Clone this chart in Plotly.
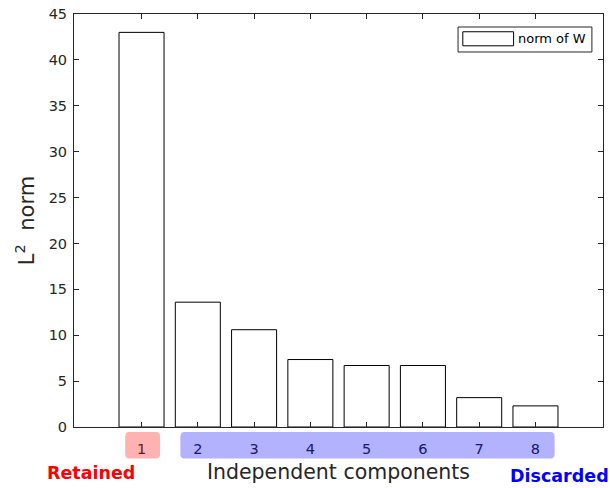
import plotly.graph_objects as go

# Independent component indices and the L2 norm of each column of W
components = [1, 2, 3, 4, 5, 6, 7, 8]
norm_w = [43.0, 13.6, 10.6, 7.35, 6.7, 6.7, 3.2, 2.3]
retained = [1]
discarded = [2, 3, 4, 5, 6, 7, 8]
y_ticks = [0, 5, 10, 15, 20, 25, 30, 35, 40, 45]
series_name = "norm of W"

AX = "#262626"
FONT = "DejaVu Sans, Arial, sans-serif"

fig = go.Figure()
fig.add_trace(go.Bar(
    x=components, y=norm_w, name=series_name, width=0.8,
    marker=dict(color="white", line=dict(color="black", width=1)),
    showlegend=False,
))


def rounded_box(x0, x1, y0, y1, rx=0.07, ry=0.012):
    return (f"M {x0+rx},{y0} L {x1-rx},{y0} Q {x1},{y0} {x1},{y0+ry} "
            f"L {x1},{y1-ry} Q {x1},{y1} {x1-rx},{y1} L {x0+rx},{y1} "
            f"Q {x0},{y1} {x0},{y1-ry} L {x0},{y0+ry} Q {x0},{y0} {x0+rx},{y0} Z")


# translucent highlight bands laid over the category labels
fig.add_shape(type="path", xref="x", yref="paper", layer="above",
              path=rounded_box(min(retained) - 0.29, max(retained) + 0.33, -0.076, -0.012),
              fillcolor="rgba(255,0,0,0.3)", line=dict(width=0))
fig.add_shape(type="path", xref="x", yref="paper", layer="above",
              path=rounded_box(min(discarded) - 0.31, max(discarded) + 0.34, -0.076, -0.012),
              fillcolor="rgba(0,0,255,0.3)", line=dict(width=0))

# legend box drawn by hand (wide swatch)
fig.add_shape(type="rect", xref="paper", yref="paper", x0=0.726, x1=0.979, y0=0.908, y1=0.9685,
              fillcolor="white", line=dict(color=AX, width=1))
fig.add_shape(type="rect", xref="paper", yref="paper", x0=0.735, x1=0.831, y0=0.923, y1=0.957,
              fillcolor="white", line=dict(color="black", width=1))
fig.add_annotation(xref="paper", yref="paper", x=0.835, y=0.940, xanchor="left", yanchor="middle",
                   text=series_name, showarrow=False, font=dict(family=FONT, size=13, color="black"))

fig.add_annotation(xref="paper", yref="paper", x=0.032, y=-0.111, xanchor="center", yanchor="middle",
                   text="<b>Retained</b>", showarrow=False, font=dict(family=FONT, size=17.5, color="#ff0000"))
fig.add_annotation(xref="paper", yref="paper", x=0.820, y=-0.119, xanchor="left", yanchor="middle",
                   text="<b>Discarded</b>", showarrow=False, font=dict(family=FONT, size=17.5, color="#0000ff"))

fig.update_layout(
    width=610, height=488,
    margin=dict(l=74, r=7, t=14, b=61),
    plot_bgcolor="white", paper_bgcolor="white",
    font=dict(family=FONT, color=AX),
    xaxis=dict(
        range=[-0.2, 9.2], tickvals=components, ticktext=[str(c) for c in components],
        ticks="inside", ticklen=5, tickcolor=AX, showline=True, linecolor=AX, linewidth=1,
        mirror="ticks", showgrid=False, zeroline=False,
        tickfont=dict(family=FONT, size=14.5, color=AX), ticklabelstandoff=9,
        title=dict(text="Independent components", font=dict(family=FONT, size=20.5, color=AX), standoff=8),
    ),
    yaxis=dict(
        range=[0, 45], tickvals=y_ticks,
        ticks="inside", ticklen=5, tickcolor=AX, showline=True, linecolor=AX, linewidth=1,
        mirror="ticks", showgrid=False, zeroline=False,
        tickfont=dict(family=FONT, size=14.5, color=AX), ticklabelstandoff=3,
        title=dict(text="L<sup>2</sup>&nbsp; norm", font=dict(family=FONT, size=21, color=AX), standoff=8),
    ),
    bargap=0.2,
)

fig.write_html("out.html")
